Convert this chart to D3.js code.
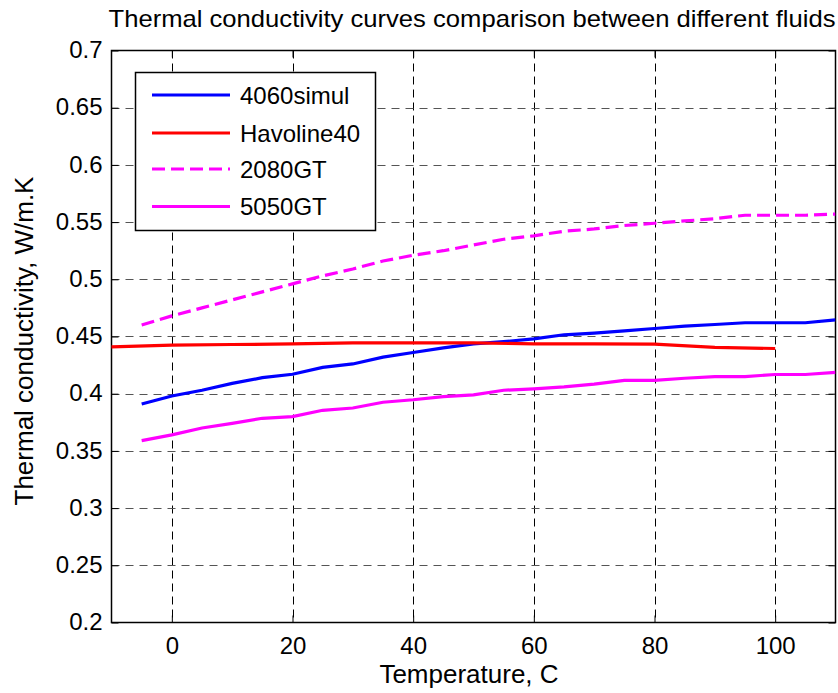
<!DOCTYPE html>
<html><head><meta charset="utf-8">
<script src="https://cdn.jsdelivr.net/npm/d3@7"></script>
<style>body{margin:0;background:#fff;} text{font-family:"Liberation Sans",Arial,sans-serif;fill:#000;}</style>
</head><body>
<svg id="c" width="838" height="693"></svg>
<script>
const title = "Thermal conductivity curves comparison between different fluids";
const xLabel = "Temperature, C";
const yLabel = "Thermal conductivity, W/m.K";
const xTicks = [0, 20, 40, 60, 80, 100];
const yTicks = [0.2, 0.25, 0.3, 0.35, 0.4, 0.45, 0.5, 0.55, 0.6, 0.65, 0.7];
const yTickLabels = ["0.2","0.25","0.3","0.35","0.4","0.45","0.5","0.55","0.6","0.65","0.7"];

const temp5 = [-5,0,5,10,15,20,25,30,35,40,45,50,55,60,65,70,75,80,85,90,95,100,105,110];
const s4060 = [0.391,0.398,0.403,0.409,0.414,0.417,0.423,0.426,0.432,0.436,0.440,0.4435,0.4455,0.448,0.4515,0.453,0.455,0.457,0.459,0.4605,0.462,0.462,0.462,0.4645];
const tempHav = [-10,0,10,20,30,40,50,60,70,80,90,100];
const sHav = [0.441,0.4425,0.443,0.4435,0.4445,0.4445,0.4445,0.4435,0.4435,0.4433,0.4405,0.4395];
const s2080 = [0.460,0.468,0.475,0.482,0.489,0.496,0.503,0.509,0.516,0.521,0.525,0.530,0.535,0.538,0.542,0.544,0.547,0.549,0.551,0.553,0.556,0.556,0.556,0.557];
const s5050 = [0.359,0.364,0.370,0.374,0.3785,0.380,0.3855,0.3875,0.3925,0.3947,0.3975,0.399,0.403,0.4043,0.406,0.4084,0.4116,0.4116,0.4135,0.415,0.415,0.4168,0.4168,0.4186];

const seriesNames = ["4060simul","Havoline40","2080GT","5050GT"];
const seriesColors = ["#0000ff","#ff0000","#ff00ff","#ff00ff"];
const seriesDash = [null,null,"13,6",null];
const seriesX = [temp5, tempHav, temp5, temp5];
const seriesY = [s4060, sHav, s2080, s5050];

const L=111.5, R=835.5, T=50.5, B=622.5;
const svg = d3.select("#c");
const x = d3.scaleLinear().domain([-10,110]).range([L,R]);
const y = d3.scaleLinear().domain([0.2,0.7]).range([B,T]);

// grid
const g = svg.append("g");
g.selectAll(".vg").data(xTicks).enter().append("line")
 .attr("x1",d=>Math.round(x(d))+0.5).attr("x2",d=>Math.round(x(d))+0.5).attr("y1",T).attr("y2",B)
 .attr("stroke","#000").attr("stroke-width",1).attr("stroke-dasharray","8,5");
g.selectAll(".hg").data(yTicks.slice(1,-1)).enter().append("line")
 .attr("x1",L).attr("x2",R).attr("y1",d=>Math.round(y(d))+0.5).attr("y2",d=>Math.round(y(d))+0.5)
 .attr("stroke","#555").attr("stroke-width",1.2).attr("stroke-dasharray","8,6");

// axes
const fs = "24px";
const ax = svg.append("g").attr("transform",`translate(0,${B})`)
 .call(d3.axisBottom(x).tickValues(xTicks).tickSize(-7).tickPadding(14).tickFormat(d3.format("d")));
const axT = svg.append("g").attr("transform",`translate(0,${T})`)
 .call(d3.axisTop(x).tickValues(xTicks).tickSize(-7).tickFormat(""));
const ay = svg.append("g").attr("transform",`translate(${L},0)`)
 .call(d3.axisLeft(y).tickValues(yTicks).tickSize(-7).tickPadding(9).tickFormat((d,i)=>yTickLabels[i]));
const ayR = svg.append("g").attr("transform",`translate(${R},0)`)
 .call(d3.axisRight(y).tickValues(yTicks).tickSize(-7).tickFormat(""));
[ax,axT,ay,ayR].forEach(a=>{
  a.select(".domain").remove();
  a.selectAll("line").attr("stroke","#000").attr("stroke-width",1);
  a.selectAll("text").style("font-size",fs).style("font-family","'Liberation Sans',Arial,sans-serif").attr("fill","#000");
});
ax.selectAll("text").attr("dy",null).attr("y",null).attr("transform",null)
  .attr("y",31);
ay.selectAll("text").attr("dy","0.3em");
svg.append("rect").attr("x",L).attr("y",T).attr("width",R-L).attr("height",B-T)
 .attr("fill","none").attr("stroke","#000").attr("stroke-width",1.5);

// lines
svg.append("clipPath").attr("id","pc").append("rect").attr("x",L-2).attr("y",T).attr("width",R-L+2).attr("height",B-T);
const lg = svg.append("g").attr("clip-path","url(#pc)");
seriesNames.forEach((n,i)=>{
  const pts = seriesX[i].map((t,j)=>[t,seriesY[i][j]]);
  lg.append("path").datum(pts)
   .attr("d",d3.line().x(d=>x(d[0])).y(d=>y(d[1])))
   .attr("fill","none").attr("stroke",seriesColors[i]).attr("stroke-width",3.2)
   .attr("stroke-dasharray",seriesDash[i]);
});

// legend
const lgX=135.5, lgY=72.5, lgW=240, lgH=158;
const leg = svg.append("g");
leg.append("rect").attr("x",lgX).attr("y",lgY).attr("width",lgW).attr("height",lgH)
 .attr("fill","#fff").attr("stroke","#000").attr("stroke-width",1.5);
const rowY = [95,133,169,206.5];
seriesNames.forEach((n,i)=>{
  leg.append("line").attr("x1",152).attr("x2",230).attr("y1",rowY[i]).attr("y2",rowY[i])
   .attr("stroke",seriesColors[i]).attr("stroke-width",3.2).attr("stroke-dasharray",seriesDash[i]);
  leg.append("text").attr("x",240).attr("y",rowY[i]).attr("dy","0.36em").style("font-size",fs).text(n);
});

// labels
svg.append("text").attr("x",472).attr("y",27).attr("text-anchor","middle").style("font-size","24px")
 .attr("textLength",727).attr("lengthAdjust","spacingAndGlyphs").text(title);
svg.append("text").attr("x",469).attr("y",683).attr("text-anchor","middle").style("font-size","26px").text(xLabel);
svg.append("text").attr("transform",`translate(33,341) rotate(-90)`).attr("text-anchor","middle").style("font-size","26px").text(yLabel);
</script>
</body></html>
